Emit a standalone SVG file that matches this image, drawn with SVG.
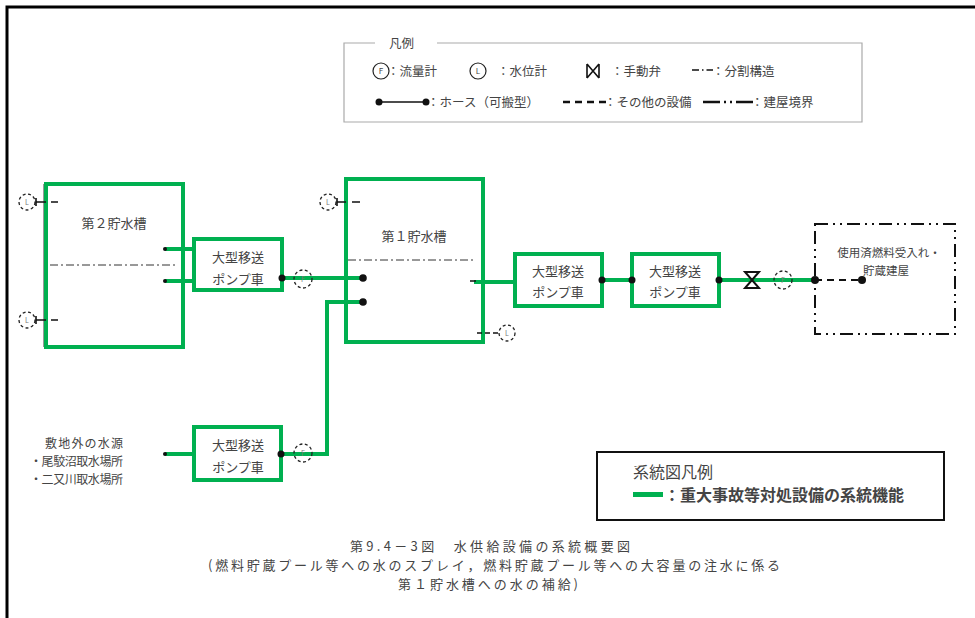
<svg xmlns="http://www.w3.org/2000/svg" width="975" height="618" viewBox="0 0 975 618">
<style>
text{font-family:"Noto Sans CJK JP","Noto Sans",sans-serif;fill:#444}
.g{fill:none;stroke:#00b050;stroke-width:4}
.box{fill:#fff;stroke:#00b050;stroke-width:4}
.pl{font-size:13px;text-anchor:middle}
.lg{font-size:12.5px}
.dd{fill:none;stroke:#333;stroke-width:1;stroke-dasharray:8 3 2 3}
.ind{fill:none;stroke:#222;stroke-width:1.3;stroke-dasharray:3 2.5}
.bk{stroke:#111;stroke-width:1.6;fill:none}
.dot{fill:#111}
.sm{font-size:7px;text-anchor:middle;fill:#777}
.cap{font-size:13px}
.src{font-size:12px}
</style>
<rect width="975" height="618" fill="#fff"/>
<path d="M7,618 V7 H975" fill="none" stroke="#000" stroke-width="3"/>

<g id="legend">
  <path d="M375,43 H344 V122 H862 V43 H437" fill="none" stroke="#aaa" stroke-width="1.2"/>
  <text x="389" y="48" class="lg">凡例</text>
  <circle cx="381" cy="71" r="8" fill="none" stroke="#222" stroke-width="1.2"/>
  <text x="381" y="74" font-size="8" text-anchor="middle" fill="#222">F</text>
  <text x="387" y="75.5" class="lg">：流量計</text>
  <circle cx="478" cy="71" r="8" fill="none" stroke="#222" stroke-width="1.2"/>
  <text x="478" y="74" font-size="8" text-anchor="middle" fill="#222">L</text>
  <text x="497" y="75.5" class="lg">：水位計</text>
  <path d="M587,64 V78 M599,64 V78 M587,64 L599,78 M587,78 L599,64" stroke="#111" stroke-width="1.6" fill="none"/>
  <text x="611" y="75.5" class="lg">：手動弁</text>
  <line x1="692" y1="70" x2="713" y2="70" stroke="#111" stroke-width="1.5" stroke-dasharray="7 3 1.5 3"/>
  <text x="712" y="75.5" class="lg">：分割構造</text>
  <line x1="379" y1="102" x2="426" y2="102" stroke="#111" stroke-width="1.5"/>
  <circle cx="379" cy="102" r="3.5" class="dot"/>
  <circle cx="426" cy="102" r="3.5" class="dot"/>
  <text x="427" y="106.5" class="lg">：ホース（可搬型）</text>
  <line x1="563" y1="102" x2="610" y2="102" stroke="#111" stroke-width="2.5" stroke-dasharray="7 5"/>
  <text x="604" y="106.5" class="lg">：その他の設備</text>
  <line x1="703" y1="102" x2="753" y2="102" stroke="#111" stroke-width="2.5" stroke-dasharray="17 4 2 4 2 4"/>
  <text x="751" y="106.5" class="lg">：建屋境界</text>
</g>

<g id="tank2">
  <line x1="44" y1="184" x2="44" y2="347" stroke="#333" stroke-width="1"/>
  <rect x="46" y="184" width="137" height="163" class="box"/>
  <line x1="50" y1="265" x2="178" y2="265" class="dd"/>
  <text x="114" y="228" class="pl">第２貯水槽</text>
  <circle cx="27" cy="202" r="8" class="ind"/>
  <text x="27" y="204.5" class="sm">L</text>
  <path d="M36,198 V206 M36,202 H46 M51,202 H58" class="bk"/>
  <circle cx="27" cy="320" r="8" class="ind"/>
  <text x="27" y="322.5" class="sm">L</text>
  <path d="M36,316 V324 M36,320 H46 M51,320 H58" class="bk"/>
</g>

<g id="tank1">
  <rect x="346" y="179" width="137" height="163" class="box"/>
  <line x1="348" y1="260" x2="473" y2="260" class="dd"/>
  <text x="414" y="241" class="pl">第１貯水槽</text>
  <circle cx="328" cy="202" r="8" class="ind"/>
  <text x="328" y="204.5" class="sm">L</text>
  <path d="M337,198 V206 M337,202 H346 M352,202 H360" class="bk"/>
  <circle cx="507" cy="333" r="8" class="ind"/>
  <text x="507" y="335.5" class="sm">L</text>
  <line x1="477" y1="333" x2="499" y2="333" stroke="#111" stroke-width="1.6" stroke-dasharray="5 3"/>
</g>

<g id="connectors">
  <line x1="165" y1="249" x2="195" y2="249" class="g"/>
  <line x1="165" y1="281" x2="195" y2="281" class="g"/>
  <circle cx="165" cy="249" r="2" class="dot"/>
  <circle cx="165" cy="281" r="2" class="dot"/>
  <line x1="282" y1="278" x2="363" y2="278" class="g"/>
  <circle cx="363" cy="278" r="3.8" class="dot"/>
  <polyline points="281,454 327,454 327,302 363,302" class="g"/>
  <circle cx="363" cy="302" r="3.8" class="dot"/>
  <line x1="165" y1="454" x2="195" y2="454" class="g"/>
  <circle cx="165" cy="454" r="2" class="dot"/>
  <line x1="474" y1="282" x2="516" y2="282" class="g"/>
  <line x1="470" y1="281" x2="476" y2="281" stroke="#111" stroke-width="1.5"/>
  <line x1="602" y1="280" x2="632" y2="280" class="g"/>
  <line x1="719" y1="280" x2="815" y2="280" class="g"/>
  <path d="M745,272 H759 L745,288 H759 Z" fill="none" stroke="#111" stroke-width="2" stroke-linejoin="miter"/>
  <circle cx="303" cy="279" r="9" class="ind"/>
  <text x="303" y="281.5" class="sm">F</text>
  <circle cx="303" cy="453" r="9" class="ind"/>
  <text x="303" y="455.5" class="sm">F</text>
  <circle cx="783" cy="280" r="9" class="ind"/>
  <text x="783" y="282.5" class="sm">F</text>
  <line x1="815" y1="280" x2="862" y2="280" stroke="#111" stroke-width="2" stroke-dasharray="7 5"/>
  <circle cx="815" cy="280" r="4" class="dot"/>
  <circle cx="862" cy="280" r="4" class="dot"/>
</g>

<g id="pumpA">
  <rect x="194" y="239" width="88" height="51" class="box"/>
  <text x="238" y="262" class="pl">大型移送</text>
  <text x="238" y="284" class="pl">ポンプ車</text>
  <circle cx="282" cy="278" r="3.5" class="dot"/>
</g>
<g id="pumpB">
  <rect x="515" y="254" width="87" height="52" class="box"/>
  <text x="558" y="276" class="pl">大型移送</text>
  <text x="558" y="297" class="pl">ポンプ車</text>
  <circle cx="602" cy="280" r="3.5" class="dot"/>
</g>
<g id="pumpC">
  <rect x="632" y="254" width="87" height="52" class="box"/>
  <text x="675" y="276" class="pl">大型移送</text>
  <text x="675" y="297" class="pl">ポンプ車</text>
  <circle cx="632" cy="280" r="3.5" class="dot"/>
  <circle cx="719" cy="280" r="3.5" class="dot"/>
</g>
<g id="pumpD">
  <rect x="194" y="427" width="87" height="53" class="box"/>
  <text x="238" y="450" class="pl">大型移送</text>
  <text x="238" y="472" class="pl">ポンプ車</text>
  <circle cx="281" cy="454" r="3.5" class="dot"/>
</g>

<g id="building">
  <rect x="815" y="224" width="140" height="110" fill="none" stroke="#111" stroke-width="2" stroke-dasharray="13 5 2 5 2 5"/>
  <text x="889" y="257" font-size="11.5" text-anchor="middle">使用済燃料受入れ・</text>
  <text x="886" y="275" font-size="11.5" text-anchor="middle">貯蔵建屋</text>
</g>

<g id="source">
  <text x="45" y="448" class="src" textLength="78">敷地外の水源</text>
  <text x="30" y="466" class="src" textLength="93">・尾駮沼取水場所</text>
  <text x="30" y="483.5" class="src" textLength="93">・二又川取水場所</text>
</g>

<g id="syslegend">
  <rect x="597" y="452" width="347" height="68" fill="#fff" stroke="#111" stroke-width="2"/>
  <text x="633" y="478" font-size="16" fill="#111">系統図凡例</text>
  <rect x="633" y="492" width="30" height="5" fill="#00b050"/>
  <text x="664" y="501" font-size="16" font-weight="bold" fill="#000">：重大事故等対処設備の系統機能</text>
</g>

<g id="caption">
  <text x="350" y="551" class="cap" textLength="280">第9.4－3図　水供給設備の系統概要図</text>
  <text x="208" y="570" class="cap" textLength="572">(燃料貯蔵プール等への水のスプレイ，燃料貯蔵プール等への大容量の注水に係る</text>
  <text x="398" y="589" class="cap" textLength="180">第１貯水槽への水の補給)</text>
</g>
</svg>
